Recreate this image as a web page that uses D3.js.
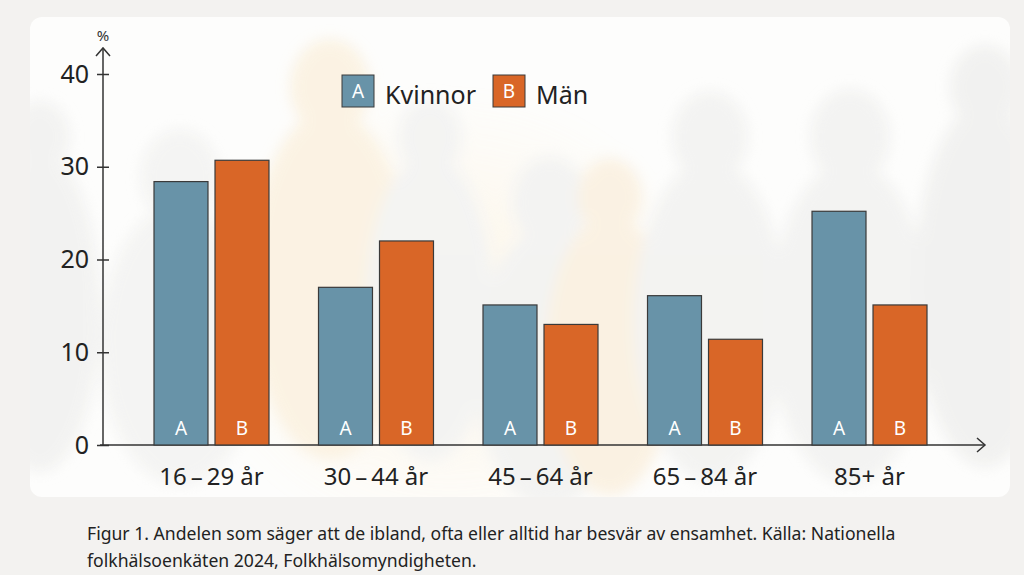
<!DOCTYPE html>
<html>
<head>
<meta charset="utf-8">
<script src="https://cdn.jsdelivr.net/npm/d3@7"></script>
<style>
  body { margin: 0; background: #f3f2f0; font-family: "Noto Sans", "Open Sans", sans-serif; }
  #card { position: absolute; left: 30px; top: 17px; width: 980px; height: 480px;
          background: #fdfdfc; border-radius: 12px; overflow: hidden; }
  #caption { position: absolute; left: 87px; top: 520px; font-size: 17.6px; line-height: 27px; color: #222; }
</style>
</head>
<body>
<div id="card"></div>
<div id="caption">Figur 1. Andelen som säger att de ibland, ofta eller alltid har besvär av ensamhet. Källa: Nationella<br>folkhälsoenkäten 2024, Folkhälsomyndigheten.</div>
<script>
// data
const ageGroups = ["16\u2009–\u200929 år", "30\u2009–\u200944 år", "45\u2009–\u200964 år", "65\u2009–\u200984 år", "85+ år"];
const kvinnor = [28.4, 17.0, 15.1, 16.1, 25.2];
const man = [30.7, 22.0, 13.0, 11.4, 15.1];
const yTickValues = [0, 10, 20, 30, 40];
const seriesNames = ["Kvinnor", "Män"];
const seriesKeys = ["A", "B"];

// constants
const w = 980, h = 480;
const colors = ["#6893a8", "#d96627"];
const x0 = 73; // y-axis position within card

const svg = d3.select("#card").append("svg").attr("width", w).attr("height", h);

// faint background silhouettes
const defs = svg.append("defs");
defs.append("filter").attr("id", "blur").append("feGaussianBlur").attr("stdDeviation", 7);
const glow = defs.append("radialGradient").attr("id", "glow");
glow.append("stop").attr("offset", "0%").attr("stop-color", "#fde9c0").attr("stop-opacity", 0.6);
glow.append("stop").attr("offset", "100%").attr("stop-color", "#fde9c0").attr("stop-opacity", 0);
const bg = svg.append("g").attr("filter", "url(#blur)").attr("opacity", 0.6);
bg.append("ellipse").attr("cx", 420).attr("cy", 300).attr("rx", 260).attr("ry", 230).attr("fill", "url(#glow)");
const people = [
  [10, 120, 30, 230, "#ececea"], [150, 160, 40, 200, "#efefed"], [300, 70, 40, 250, "#faecd3"],
  [400, 120, 32, 220, "#eeeeec"], [520, 185, 38, 200, "#ededeb"], [580, 180, 32, 200, "#f9ead2"],
  [680, 120, 38, 230, "#ededeb"], [820, 120, 40, 230, "#ededeb"], [955, 70, 35, 260, "#eaeae8"]
];
people.forEach(p => {
  bg.append("ellipse").attr("cx", p[0]).attr("cy", p[1]).attr("rx", p[2]).attr("ry", p[2] * 1.2)
    .attr("fill", p[4]);
  bg.append("ellipse").attr("cx", p[0]).attr("cy", p[1] + p[2] * 1.2 + p[3] * 0.6).attr("rx", p[2] * 2)
    .attr("ry", p[3] * 0.7).attr("fill", p[4]);
});

// scales
const y = d3.scaleLinear().domain([0, 40]).range([428, 57]);
const xGroup = d3.scaleBand().domain(ageGroups).range([124, 897]).paddingInner(0.301).paddingOuter(0);
const xSub = d3.scaleBand().domain(seriesKeys).range([0, xGroup.bandwidth()]).paddingInner(0.115);

// axes
const yAxis = d3.axisLeft(y).tickValues(yTickValues).tickSize(6).tickPadding(8);
const gy = svg.append("g").attr("transform", `translate(${x0},0)`).call(yAxis);
gy.select(".domain").remove();
gy.selectAll(".tick line").attr("x2", 6).attr("x1", -6).attr("stroke", "#333").attr("stroke-width", 1.3);
gy.selectAll(".tick text").attr("font-size", 25).attr("fill", "#222").attr("font-family", "Noto Sans");

const axisColor = "#333";
svg.append("line").attr("x1", x0).attr("x2", x0).attr("y1", y(0) + 1).attr("y2", 31)
  .attr("stroke", axisColor).attr("stroke-width", 1.5);
svg.append("path").attr("d", `M${x0 - 7},${39} L${x0},${31} L${x0 + 7},${39}`)
  .attr("fill", "none").attr("stroke", axisColor).attr("stroke-width", 1.5);
svg.append("text").attr("x", x0).attr("y", 24).attr("text-anchor", "middle")
  .attr("font-size", 15).attr("fill", "#333").text("%");

const xEnd = 955;
svg.append("line").attr("x1", x0 - 3).attr("x2", xEnd).attr("y1", y(0)).attr("y2", y(0))
  .attr("stroke", axisColor).attr("stroke-width", 1.5);
svg.append("path").attr("d", `M${xEnd - 8},${y(0) - 7} L${xEnd},${y(0)} L${xEnd - 8},${y(0) + 7}`)
  .attr("fill", "none").attr("stroke", axisColor).attr("stroke-width", 1.5);

const xAxis = d3.axisBottom(xGroup).tickSize(0).tickPadding(23);
const gx = svg.append("g").attr("transform", `translate(0,${y(0)})`).call(xAxis);
gx.select(".domain").remove();
gx.selectAll(".tick text").attr("font-size", 24).attr("fill", "#222").attr("font-family", "Noto Sans");

// bars
const groups = svg.append("g").selectAll("g").data(ageGroups).enter().append("g")
  .attr("transform", d => `translate(${xGroup(d)},0)`);
const series = [kvinnor, man];
seriesKeys.forEach((k, si) => {
  groups.append("rect")
    .attr("x", xSub(k))
    .attr("y", (d, i) => y(series[si][i]))
    .attr("width", xSub.bandwidth())
    .attr("height", (d, i) => y(0) - y(series[si][i]))
    .attr("fill", colors[si])
    .attr("stroke", "#3a3a3a")
    .attr("stroke-width", 1.2);
  groups.append("text")
    .attr("x", xSub(k) + xSub.bandwidth() / 2)
    .attr("y", y(0) - 10)
    .attr("text-anchor", "middle")
    .attr("font-size", 19)
    .attr("fill", "#fff")
    .text(k);
});

// legend
const legend = svg.append("g").attr("transform", "translate(312,58)");
const legendX = [0, 151];
seriesNames.forEach((name, i) => {
  const g = legend.append("g").attr("transform", `translate(${legendX[i]},0)`);
  g.append("rect").attr("width", 32).attr("height", 32).attr("fill", colors[i])
    .attr("stroke", "#3a3a3a").attr("stroke-width", 1);
  g.append("text").attr("x", 16).attr("y", 23).attr("text-anchor", "middle")
    .attr("font-size", 19).attr("fill", "#fff").text(seriesKeys[i]);
  g.append("text").attr("x", 43).attr("y", 29).attr("font-size", 25).attr("fill", "#222").text(name);
});
</script>
</body>
</html>
